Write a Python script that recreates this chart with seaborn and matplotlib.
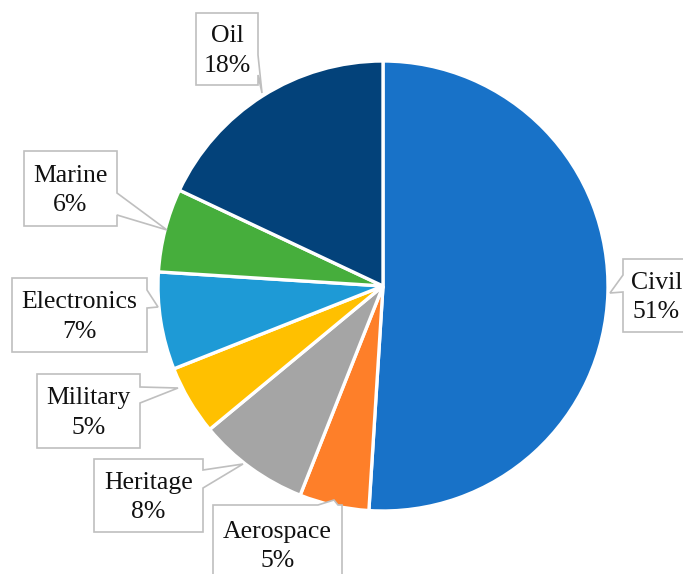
import matplotlib
matplotlib.use("Agg")
import matplotlib.pyplot as plt
import seaborn as sns
from matplotlib.patches import Polygon

# ---- data ----
categories = ["Civil", "Aerospace", "Heritage", "Military", "Electronics", "Marine", "Oil"]
shares = [51, 5, 8, 5, 7, 6, 18]
colors = ["#1872C8", "#FE7F29", "#A5A5A5", "#FFC000", "#1E9AD6", "#46AE3C", "#03427A"]

# ---- layout (pixels, y downward) ----
W, H = 683, 574
CX, CY, R = 383, 286, 225
# box (left, top, right, bottom), side of pointer, pointer base range, pointer tip
callouts = {
    "Civil": ((623, 259, 690, 332), "left", (275, 292), (610, 293)),
    "Aerospace": ((213, 505, 342, 584), "top", (318, 338), (334, 500)),
    "Heritage": ((94, 459, 203, 532), "right", (470, 488), (243, 464)),
    "Military": ((37, 374, 140, 448), "right", (387, 403), (178, 388)),
    "Electronics": ((12, 278, 147, 352), "right", (290, 308), (158, 307)),
    "Marine": ((24, 151, 117, 226), "right", (193, 215), (167, 230)),
    "Oil": ((196, 13, 258, 85), "right", (55, 75), (262, 93)),
}

sns.set_theme(style="white")
plt.rcParams["font.family"] = ["Liberation Serif", "DejaVu Serif"]

fig = plt.figure(figsize=(W / 100, H / 100), dpi=100)
ax = fig.add_axes([0, 0, 1, 1])
ax.pie(shares, colors=colors, startangle=90, counterclock=False, radius=1,
       center=(0, 0), wedgeprops=dict(edgecolor="white", linewidth=2.4))


def to_data(p):
    return ((p[0] - CX) / R, (CY - p[1]) / R)


for name, val in zip(categories, shares):
    (l, t, r, b), side, (a1, a2), tip = callouts[name]
    if side == "right":
        pts = [(l, t), (r, t), (r, a1), tip, (r, a2), (r, b), (l, b)]
    elif side == "left":
        pts = [(l, t), (r, t), (r, b), (l, b), (l, a2), tip, (l, a1)]
    else:  # top
        pts = [(l, t), (a1, t), tip, (a2, t), (r, t), (r, b), (l, b)]
    poly = Polygon([to_data(p) for p in pts], closed=True, facecolor="white",
                   edgecolor="#BFBFBF", linewidth=1.2, zorder=3)
    ax.add_patch(poly)
    cx, cy = to_data(((l + r) / 2, (t + b) / 2 + 2))
    ax.text(cx, cy, f"{name}\n{val}%", ha="center", va="center", fontsize=18.5,
            linespacing=1.42, color="#111111", zorder=4)

ax.set_xlim(-CX / R, (W - CX) / R)
ax.set_ylim(-(H - CY) / R, CY / R)
ax.set_aspect("equal")
ax.axis("off")
fig.savefig("out.png", dpi=100)
